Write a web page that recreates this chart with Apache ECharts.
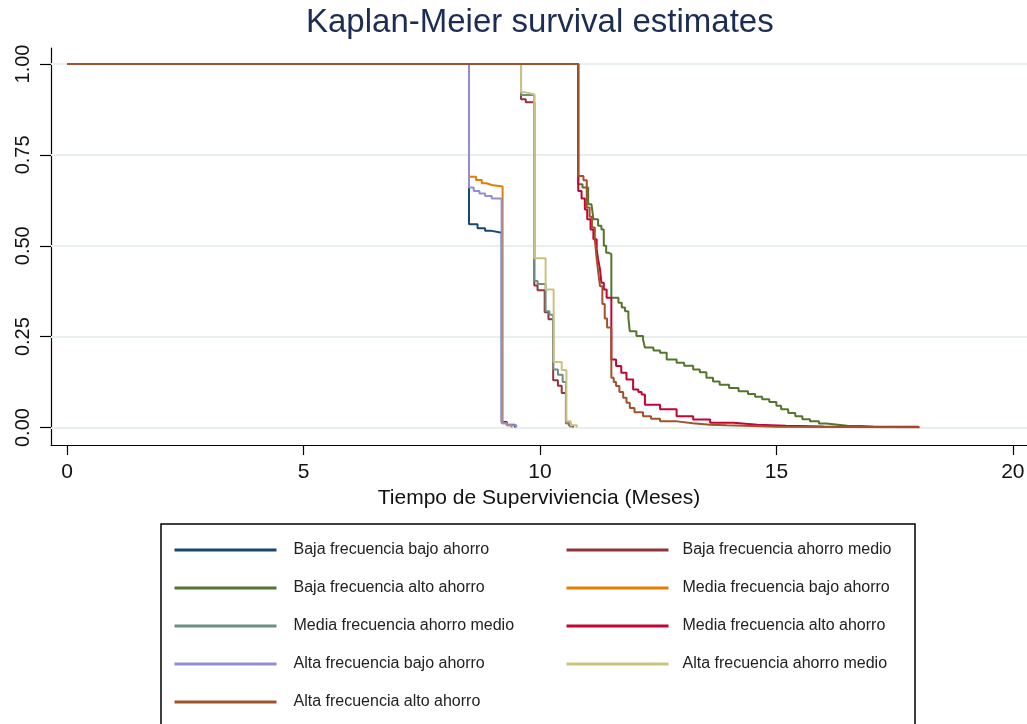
<!DOCTYPE html>
<html>
<head>
<meta charset="utf-8">
<script src="https://cdn.jsdelivr.net/npm/echarts@6/dist/echarts.min.js"></script>
<style>
  html, body { margin: 0; padding: 0; background: #fff; }
  #main { width: 1027px; height: 724px; }
</style>
</head>
<body>
<div id="main"></div>
<script>
// Kaplan-Meier: tiempos (meses) y supervivencia por grupo
const seriesNames = [
  'Baja frecuencia bajo ahorro', 'Baja frecuencia ahorro medio', 'Baja frecuencia alto ahorro',
  'Media frecuencia bajo ahorro', 'Media frecuencia ahorro medio', 'Media frecuencia alto ahorro',
  'Alta frecuencia bajo ahorro', 'Alta frecuencia ahorro medio', 'Alta frecuencia alto ahorro'
]
const seriesColors = ['#1a476f', '#90353b', '#55752f', '#e37e00', '#6e8e84', '#c10534', '#938dd2', '#cac27e', '#a0522d']

// Baja frecuencia bajo ahorro
const tBajaBajo = [0, 8.5, 8.68, 8.84, 8.98, 9.19, 9.3, 9.47]
const sBajaBajo = [1, 0.559, 0.548, 0.541, 0.536, 0.015, 0.008, 0]
// Baja frecuencia ahorro medio
const tBajaMedio = [0, 9.6, 9.7, 9.88, 9.95, 10.1, 10.18, 10.28, 10.38, 10.46, 10.55, 10.62, 10.7]
const sBajaMedio = [1, 0.903, 0.895, 0.391, 0.378, 0.317, 0.298, 0.13, 0.115, 0.095, 0.012, 0.005, 0]
// Baja frecuencia alto ahorro
const tBajaAlto = [0, 10.81, 10.9, 11.02, 11.09, 11.13, 11.23, 11.3, 11.35, 11.4, 11.45, 11.51, 11.66, 11.73, 11.8, 11.87, 11.9,
  12.04, 12.18, 12.22, 12.4, 12.54, 12.68, 12.89, 13.05, 13.24, 13.38, 13.52, 13.66, 13.8, 14.0, 14.2, 14.4, 14.55, 14.7,
  14.85, 15.0, 15.1, 15.25, 15.4, 15.55, 15.71, 15.9, 16.06, 16.3, 16.5, 16.8, 17.05]
const sBajaAlto = [1, 0.669, 0.66, 0.614, 0.61, 0.573, 0.555, 0.545, 0.5, 0.481, 0.477, 0.357, 0.343, 0.33, 0.32, 0.302, 0.265,
  0.252, 0.242, 0.22, 0.212, 0.206, 0.187, 0.178, 0.17, 0.16, 0.152, 0.137, 0.127, 0.118, 0.109, 0.1, 0.092, 0.085, 0.078,
  0.07, 0.06, 0.05, 0.04, 0.031, 0.023, 0.017, 0.011, 0.008, 0.005, 0.004, 0.002, 0]
// Media frecuencia bajo ahorro
const tMediaBajo = [0, 8.5, 8.65, 8.77, 8.87, 8.98, 9.21, 9.3, 9.4]
const sMediaBajo = [1, 0.69, 0.681, 0.672, 0.667, 0.663, 0.012, 0.006, 0]
// Media frecuencia ahorro medio
const tMediaMedio = [0, 9.6, 9.88, 9.95, 10.12, 10.2, 10.28, 10.38, 10.48, 10.55, 10.65]
const sMediaMedio = [1, 0.915, 0.403, 0.395, 0.32, 0.31, 0.16, 0.145, 0.125, 0.012, 0]
// Media frecuencia alto ahorro
const tMediaAlto = [0, 10.81, 10.88, 10.95, 11.0, 11.07, 11.13, 11.2, 11.23, 11.27, 11.3, 11.35, 11.41, 11.51, 11.61, 11.72,
  11.83, 11.97, 12.08, 12.15, 12.22, 12.54, 12.89, 13.24, 13.6, 14.09, 14.6, 15.2, 16.0, 18.0]
const sMediaAlto = [1, 0.651, 0.63, 0.6, 0.573, 0.545, 0.518, 0.49, 0.463, 0.435, 0.398, 0.38, 0.357, 0.187, 0.169, 0.151,
  0.132, 0.105, 0.098, 0.091, 0.063, 0.05, 0.031, 0.022, 0.013, 0.008, 0.005, 0.003, 0.002, 0]
// Alta frecuencia bajo ahorro
const tAltaBajo = [0, 8.5, 8.6, 8.72, 8.84, 8.98, 9.19, 9.3, 9.5]
const sAltaBajo = [1, 0.66, 0.651, 0.644, 0.637, 0.63, 0.012, 0.006, 0]
// Alta frecuencia ahorro medio
const tAltaMedio = [0, 9.6, 9.7, 9.88, 10.12, 10.29, 10.46, 10.56, 10.65, 10.78]
const sAltaMedio = [1, 0.922, 0.917, 0.466, 0.38, 0.18, 0.158, 0.017, 0.006, 0]
// Alta frecuencia alto ahorro
const tAltaAlto = [0, 10.81, 10.92, 10.99, 11.05, 11.1, 11.16, 11.2, 11.24, 11.27, 11.32, 11.37, 11.42, 11.51, 11.56, 11.61,
  11.68, 11.76, 11.83, 11.9, 12.0, 12.18, 12.35, 12.54, 12.9, 13.23, 13.6, 13.95, 14.5, 15.0, 18.03]
const sAltaAlto = [1, 0.692, 0.68, 0.605, 0.58, 0.55, 0.518, 0.463, 0.42, 0.389, 0.34, 0.3, 0.275, 0.137, 0.125, 0.114,
  0.098, 0.082, 0.068, 0.054, 0.042, 0.031, 0.024, 0.017, 0.012, 0.008, 0.006, 0.004, 0.002, 0.001, 0]

const seriesTimes = [tBajaBajo, tBajaMedio, tBajaAlto, tMediaBajo, tMediaMedio, tMediaAlto, tAltaBajo, tAltaMedio, tAltaAlto]
const seriesSurv = [sBajaBajo, sBajaMedio, sBajaAlto, sMediaBajo, sMediaMedio, sMediaAlto, sAltaBajo, sAltaMedio, sAltaAlto]

// ejes
const xTicks = [0, 5, 10, 15, 20]
const yTicks = [0, 0.25, 0.5, 0.75, 1]

const font = "'Liberation Sans', Arial, sans-serif"

const chartDom = document.getElementById('main')
const myChart = echarts.init(chartDom, null, { renderer: 'canvas' })

const series = seriesNames.map((name, i) => {
  return {
    name: name,
    type: 'line',
    step: 'end',
    symbol: 'none',
    animation: false,
    z: 3,
    lineStyle: { color: seriesColors[i], width: 2 },
    itemStyle: { color: seriesColors[i] },
    data: seriesTimes[i].map((t, j) => [t, seriesSurv[i][j]])
  }
})

// lineas de cuadricula horizontales (debajo de las curvas)
series.unshift({
  name: 'grid',
  type: 'line',
  data: [],
  z: 1,
  silent: true,
  animation: false,
  markLine: {
    silent: true,
    z: 1,
    symbol: 'none',
    label: { show: false },
    lineStyle: { color: '#e7eff1', width: 2, type: 'solid' },
    data: yTicks.map(v => ({ yAxis: v }))
  }
})

const legendStyle = {
  orient: 'vertical',
  itemWidth: 102,
  itemHeight: 14,
  itemGap: 22,
  padding: 0,
  lineStyle: { width: 3 },
  itemStyle: { opacity: 0 },
  textStyle: { fontFamily: font, fontSize: 16, color: '#222' },
  selectedMode: false
}

const option = {
  backgroundColor: '#fff',
  animation: false,
  title: {
    text: 'Kaplan-Meier survival estimates',
    left: 306,
    top: 6,
    padding: 0,
    textStyle: { fontFamily: font, fontSize: 33, fontWeight: 'normal', color: '#1c2c52' }
  },
  grid: { left: 51, top: 48, width: 976, height: 397, containLabel: false, outerBoundsMode: 'none' },
  legend: [
    Object.assign({}, legendStyle, {
      left: 173, top: 542,
      data: [seriesNames[0], seriesNames[2], seriesNames[4], seriesNames[6], seriesNames[8]],
      textStyle: Object.assign({}, legendStyle.textStyle, { padding: [0, 0, 0, 12] })
    }),
    Object.assign({}, legendStyle, {
      left: 565, top: 542,
      data: [seriesNames[1], seriesNames[3], seriesNames[5], seriesNames[7]],
      textStyle: Object.assign({}, legendStyle.textStyle, { padding: [0, 0, 0, 9] })
    })
  ],
  xAxis: {
    type: 'value',
    min: -0.34,
    max: 20.3,
    name: 'Tiempo de Superviviencia (Meses)',
    nameLocation: 'middle',
    nameGap: 42,
    nameTextStyle: { fontFamily: font, fontSize: 21, color: '#111' },
    axisLine: { show: true, onZero: false, lineStyle: { color: '#000', width: 1.2 } },
    axisTick: { show: true, length: 10, customValues: xTicks, lineStyle: { color: '#000', width: 1.2 } },
    axisLabel: { customValues: xTicks, margin: 17, fontFamily: font, fontSize: 21, color: '#111' },
    splitLine: { show: false }
  },
  yAxis: {
    type: 'value',
    min: -0.048,
    max: 1.044,
    axisLine: { show: true, onZero: false, lineStyle: { color: '#000', width: 1.2 } },
    axisTick: { show: true, length: 11, customValues: yTicks, lineStyle: { color: '#000', width: 1.2 } },
    axisLabel: {
      customValues: yTicks,
      rotate: 90,
      margin: 18,
      fontFamily: font,
      fontSize: 20,
      color: '#111',
      formatter: v => v.toFixed(2)
    },
    splitLine: { show: false }
  },
  graphic: [
    {
      type: 'rect',
      silent: true,
      shape: { x: 161, y: 524, width: 754, height: 260 },
      style: { fill: 'none', stroke: '#000', lineWidth: 1.5 }
    }
  ],
  series: series
}

myChart.setOption(option)
</script>
</body>
</html>
